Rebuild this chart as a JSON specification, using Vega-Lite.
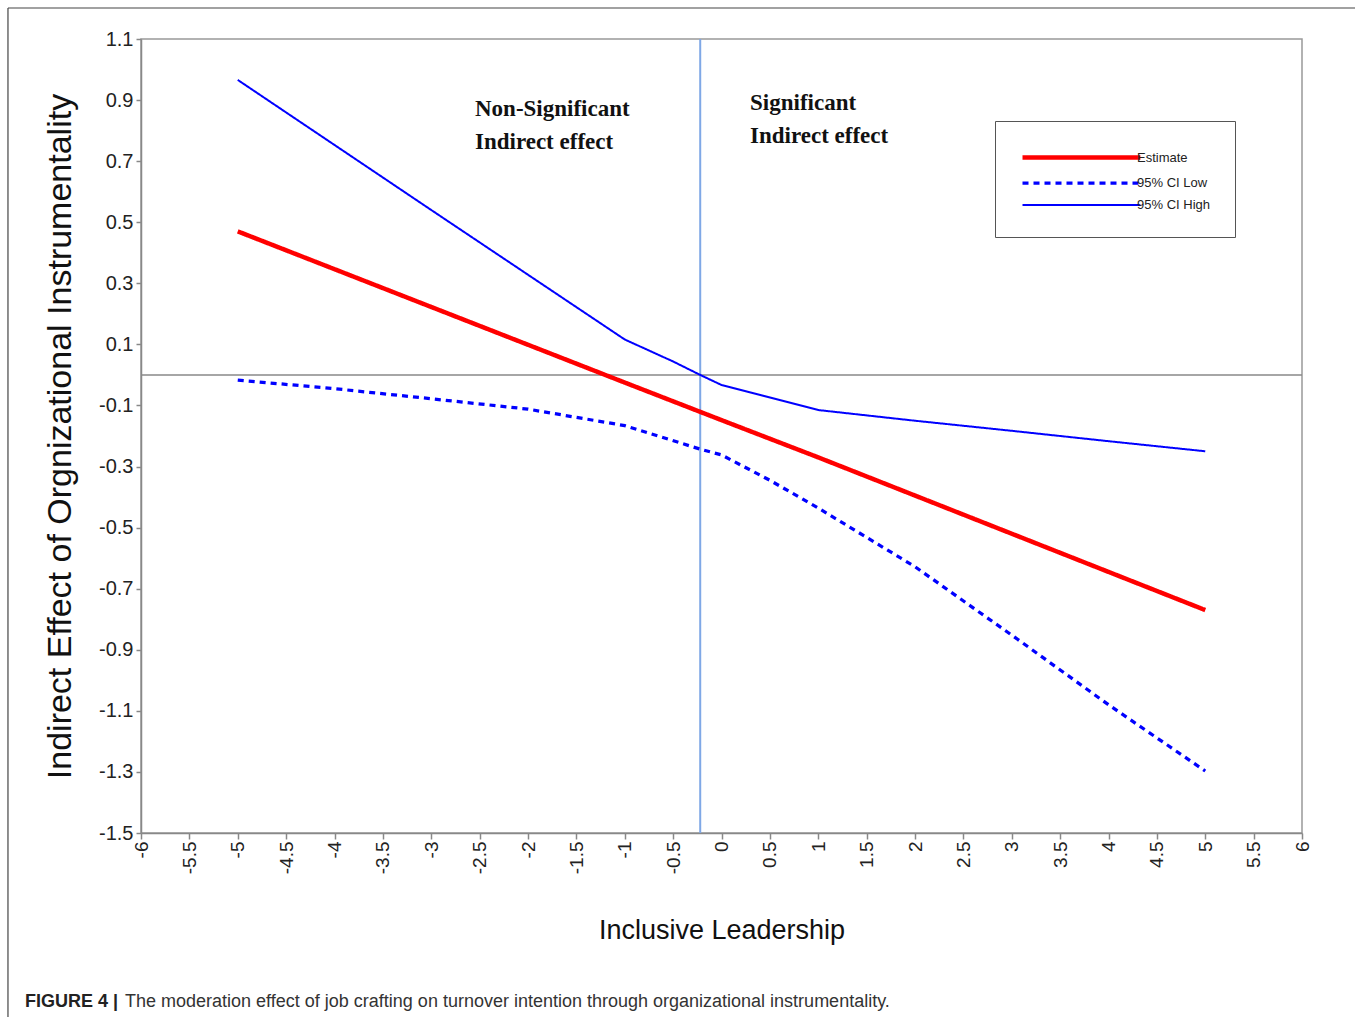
{
  "$schema": "https://vega.github.io/schema/vega-lite/v6.json",
  "width": 1161,
  "height": 794,
  "autosize": {"type": "none"},
  "padding": {"left": 141, "top": 39, "right": 53, "bottom": 184},
  "background": "white",
  "config": {
    "view": {"stroke": "#999", "strokeWidth": 1.5},
    "font": "Liberation Sans"
  },
  "datasets": {
    "lines": [
      {"series": "Estimate", "x": -5, "y": 0.47},
      {"series": "Estimate", "x": -1, "y": -0.025},
      {"series": "Estimate", "x": 0, "y": -0.148},
      {"series": "Estimate", "x": 1, "y": -0.27},
      {"series": "Estimate", "x": 5, "y": -0.77},
      {"series": "95% CI Low", "x": -5, "y": -0.017},
      {"series": "95% CI Low", "x": -4, "y": -0.045},
      {"series": "95% CI Low", "x": -3, "y": -0.078},
      {"series": "95% CI Low", "x": -2, "y": -0.112},
      {"series": "95% CI Low", "x": -1, "y": -0.166},
      {"series": "95% CI Low", "x": -0.22, "y": -0.243},
      {"series": "95% CI Low", "x": 0, "y": -0.262},
      {"series": "95% CI Low", "x": 0.5, "y": -0.345},
      {"series": "95% CI Low", "x": 1, "y": -0.436},
      {"series": "95% CI Low", "x": 2, "y": -0.628},
      {"series": "95% CI Low", "x": 3, "y": -0.852},
      {"series": "95% CI Low", "x": 4, "y": -1.08},
      {"series": "95% CI Low", "x": 5, "y": -1.297},
      {"series": "95% CI High", "x": -5, "y": 0.966},
      {"series": "95% CI High", "x": -3, "y": 0.54},
      {"series": "95% CI High", "x": -1, "y": 0.116},
      {"series": "95% CI High", "x": -0.5, "y": 0.044},
      {"series": "95% CI High", "x": -0.22, "y": 0.0},
      {"series": "95% CI High", "x": 0, "y": -0.033},
      {"series": "95% CI High", "x": 1, "y": -0.115},
      {"series": "95% CI High", "x": 2, "y": -0.15},
      {"series": "95% CI High", "x": 3, "y": -0.183},
      {"series": "95% CI High", "x": 4, "y": -0.217},
      {"series": "95% CI High", "x": 5, "y": -0.25}
    ],
    "notes": [
      {"x": -2.548, "y": 0.848, "text": ["Non-Significant", "Indirect effect"]},
      {"x": 0.295, "y": 0.868, "text": ["Significant", "Indirect effect"]}
    ],
    "one": [{}]
  },
  "layer": [
    {
      "data": {"name": "one"},
      "mark": {"type": "rule", "color": "#444", "strokeWidth": 1.2},
      "encoding": {
        "x": {"datum": -7.375, "type": "quantitative", "scale": {"domain": [-6, 6], "nice": false, "zero": false}},
        "y": {"datum": 1.2015, "type": "quantitative", "scale": {"domain": [-1.5, 1.1], "nice": false, "zero": false}},
        "y2": {"datum": -2.4}
      }
    },
    {
      "data": {"name": "one"},
      "mark": {"type": "rule", "color": "#444", "strokeWidth": 1.2},
      "encoding": {
        "x": {"datum": -7.375, "type": "quantitative"},
        "x2": {"datum": 6.7},
        "y": {"datum": 1.2015, "type": "quantitative"}
      }
    },
    {
      "data": {"name": "one"},
      "mark": {"type": "rule", "color": "#888", "strokeWidth": 1.5},
      "encoding": {"y": {"datum": 0, "type": "quantitative"}}
    },
    {
      "data": {"name": "one"},
      "mark": {"type": "rule", "color": "#7fa8e6", "strokeWidth": 2},
      "encoding": {"x": {"datum": -0.22, "type": "quantitative"}}
    },
    {
      "data": {"name": "lines"},
      "mark": {"type": "line", "strokeCap": "butt"},
      "encoding": {
        "x": {
          "field": "x", "type": "quantitative",
          "scale": {"domain": [-6, 6], "nice": false, "zero": false},
          "axis": {
            "values": [-6, -5.5, -5, -4.5, -4, -3.5, -3, -2.5, -2, -1.5, -1, -0.5, 0, 0.5, 1, 1.5, 2, 2.5, 3, 3.5, 4, 4.5, 5, 5.5, 6],
            "labelExpr": "'' + datum.value",
            "labelAngle": -90,
            "labelFlush": false,
            "labelOverlap": false,
            "labelFontSize": 19,
            "labelColor": "#222",
            "labelPadding": 2,
            "tickSize": 6,
            "tickColor": "#888",
            "tickWidth": 1.5,
            "domainColor": "#888",
            "domainWidth": 1.5,
            "grid": false,
            "title": "Inclusive Leadership",
            "titleFontSize": 27,
            "titleFontWeight": "normal",
            "titleColor": "#111",
            "titleBaseline": "middle",
            "titleY": 97
          }
        },
        "y": {
          "field": "y", "type": "quantitative",
          "scale": {"domain": [-1.5, 1.1], "nice": false, "zero": false},
          "axis": {
            "values": [-1.5, -1.3, -1.1, -0.9, -0.7, -0.5, -0.3, -0.1, 0.1, 0.3, 0.5, 0.7, 0.9, 1.1],
            "labelExpr": "'' + datum.value",
            "labelOverlap": false,
            "labelFontSize": 20,
            "labelColor": "#222",
            "labelPadding": 3,
            "tickSize": 5,
            "tickColor": "#888",
            "tickWidth": 1.5,
            "domainColor": "#888",
            "domainWidth": 1.5,
            "grid": false,
            "title": "Indirect Effect of  Orgnizational Instrumentality",
            "titleFontSize": 34,
            "titleFontWeight": "normal",
            "titleColor": "#111",
            "titleBaseline": "middle",
            "titleX": -81
          }
        },
        "detail": {"field": "series"},
        "color": {
          "field": "series", "type": "ordinal",
          "scale": {"domain": ["Estimate", "95% CI Low", "95% CI High"], "range": ["#ff0000", "#0000ff", "#0000ff"]},
          "legend": {
            "title": null, "orient": "none", "legendX": 854, "legendY": 82,
            "symbolType": "M-1,0H12.1", "symbolSize": 324, "labelOffset": 94,
            "labelFontSize": 13, "labelColor": "#222",
            "padding": 25, "strokeColor": "#555", "fillColor": "white", "rowPadding": 5
          }
        },
        "strokeDash": {
          "field": "series", "type": "ordinal",
          "scale": {"domain": ["Estimate", "95% CI Low", "95% CI High"], "range": [[1, 0], [6, 5], [1, 0]]},
          "legend": {
            "title": null, "orient": "none", "legendX": 854, "legendY": 82,
            "symbolType": "M-1,0H12.1", "symbolSize": 324, "labelOffset": 94,
            "labelFontSize": 13, "labelColor": "#222",
            "padding": 25, "strokeColor": "#555", "fillColor": "white", "rowPadding": 5
          }
        },
        "strokeWidth": {
          "field": "series", "type": "ordinal",
          "scale": {"domain": ["Estimate", "95% CI Low", "95% CI High"], "range": [4.5, 2, 2]},
          "legend": {
            "title": null, "orient": "none", "legendX": 854, "legendY": 82,
            "symbolType": "M-1,0H12.1", "symbolSize": 324, "labelOffset": 94,
            "labelFontSize": 13, "labelColor": "#222",
            "padding": 25, "strokeColor": "#555", "fillColor": "white", "rowPadding": 5
          }
        }
      }
    },
    {
      "data": {"name": "notes"},
      "mark": {"type": "text", "font": "Liberation Serif", "fontWeight": "bold", "fontSize": 23, "align": "left", "baseline": "alphabetic", "lineHeight": 33, "color": "#111"},
      "encoding": {
        "x": {"field": "x", "type": "quantitative"},
        "y": {"field": "y", "type": "quantitative"},
        "text": {"field": "text"}
      }
    },
    {
      "data": {"name": "one"},
      "mark": {"type": "text", "fontWeight": "bold", "fontSize": 18, "align": "left", "baseline": "alphabetic", "color": "#222"},
      "encoding": {
        "x": {"datum": -7.199, "type": "quantitative"},
        "y": {"datum": -2.069, "type": "quantitative"},
        "text": {"value": "FIGURE 4 |"}
      }
    },
    {
      "data": {"name": "one"},
      "mark": {"type": "text", "fontSize": 18, "align": "left", "baseline": "alphabetic", "color": "#333"},
      "encoding": {
        "x": {"datum": -6.165, "type": "quantitative"},
        "y": {"datum": -2.069, "type": "quantitative"},
        "text": {"value": "The moderation effect of job crafting on turnover intention through organizational instrumentality."}
      }
    }
  ]
}
